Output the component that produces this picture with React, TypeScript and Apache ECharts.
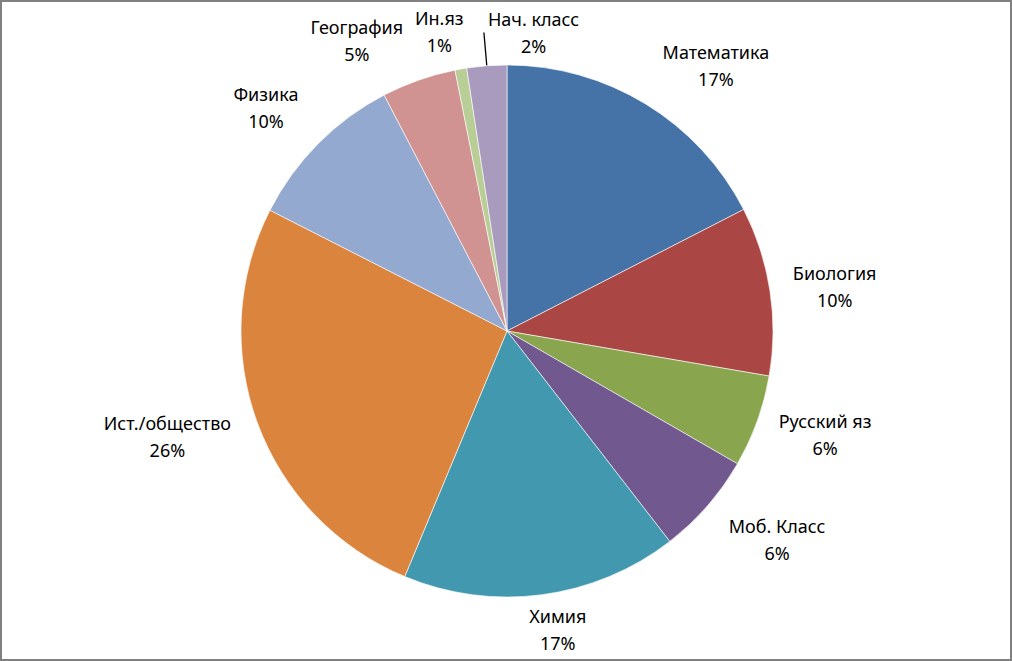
import React, { useEffect, useRef } from "react";
import * as echarts from "echarts";

const categories = [
  "Математика",
  "Биология",
  "Русский яз",
  "Моб. Класс",
  "Химия",
  "Ист./общество",
  "Физика",
  "География",
  "Ин.яз",
  "Нач. класс",
];
const values = [17.45, 10.26, 5.61, 6.2, 16.76, 26.22, 9.86, 4.51, 0.71, 2.42];
const colors = [
  "#4572A7",
  "#AA4643",
  "#89A54E",
  "#71588F",
  "#4198AF",
  "#DB843D",
  "#93A9CF",
  "#D19392",
  "#B9CD96",
  "#A99BBD",
];
// small label nudges (px) to mimic the original label placement
const labelNudge: number[][] = [
  [37, 16],
  [7, 5],
  [6, -9],
  [19, -11],
  [10, -8],
  [-13, -15],
  [-13, 3],
  [-44, 11],
  [-14, 6],
  [50, 10],
];

export default function App() {
  const ref = useRef<HTMLDivElement>(null);
  useEffect(() => {
    if (!ref.current) return;
    const chart = echarts.init(ref.current, null, { renderer: "svg" });
    const CX = 507;
    const CY = 331;
    const R = 266;
    const GAP = 13;
    chart.setOption({
      animation: false,
      backgroundColor: "#ffffff",
      graphic: [
        {
          type: "rect",
          silent: true,
          z: 100,
          shape: { x: 1, y: 1, width: 1010, height: 659 },
          style: { fill: "none", stroke: "#808080", lineWidth: 2 },
        },
      ],
      series: [
        {
          type: "pie",
          center: [CX, CY],
          radius: R,
          startAngle: 90,
          clockwise: true,
          avoidLabelOverlap: false,
          emphasis: { disabled: true },
          itemStyle: { borderColor: "#ffffff", borderWidth: 0.6 },
          data: categories.map((name, i) => ({
            name,
            value: values[i],
            itemStyle: { color: colors[i] },
            labelLine: { lineStyle: { opacity: i === 9 ? 1 : 0 } },
          })),
          label: {
            show: true,
            position: "outside",
            formatter: (p: any) => `${p.name}\n${Math.round(p.percent)}%`,
            fontFamily: "Noto Sans",
            fontSize: 18,
            lineHeight: 27,
            color: "#000000",
            align: "center",
          },
          labelLine: {
            show: true,
            length: 10,
            length2: 0,
            lineStyle: { color: "#000000", width: 1.3 },
          },
          labelLayout: (p: any) => {
            const i = p.dataIndex;
            const pts = p.labelLinePoints;
            let px = CX;
            let py = CY - R;
            let ux = 0;
            let uy = -1;
            if (pts && pts.length >= 2) {
              px = pts[0][0];
              py = pts[0][1];
              const dx = pts[1][0] - pts[0][0];
              const dy = pts[1][1] - pts[0][1];
              const l = Math.hypot(dx, dy) || 1;
              ux = dx / l;
              uy = dy / l;
            }
            const w = p.labelRect.width;
            const h = p.labelRect.height;
            const ext = GAP + (Math.abs(ux) * w) / 2 + (Math.abs(uy) * h) / 2;
            const nx = labelNudge[i] ? labelNudge[i][0] : 0;
            const ny = labelNudge[i] ? labelNudge[i][1] : 0;
            const x = px + ux * ext + nx;
            const y = py + uy * ext + ny;
            const out: any = { x, y, align: "center", verticalAlign: "middle" };
            if (i === 9) {
              const ex = x - w / 2 - 4;
              out.labelLinePoints = [
                [px, py],
                [(px + ex) / 2, (py + y) / 2],
                [ex, y],
              ];
            }
            return out;
          },
        },
      ],
    });
    return () => chart.dispose();
  }, []);
  return (
    <div
      ref={ref}
      style={{ position: "fixed", left: 0, top: 0, width: 1012, height: 661 }}
    />
  );
}
